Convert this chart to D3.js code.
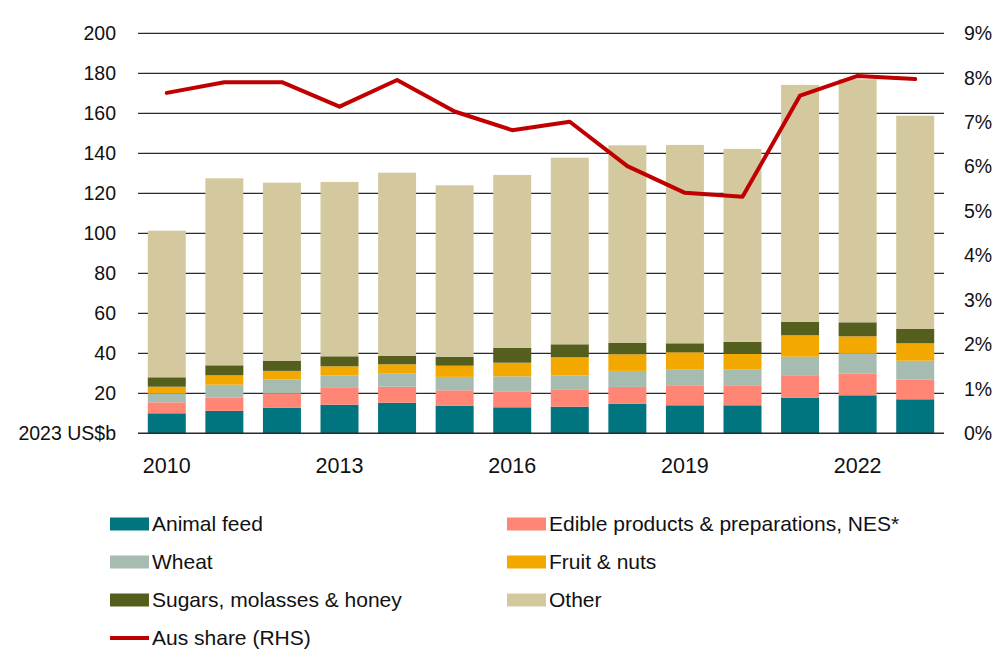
<!DOCTYPE html>
<html><head><meta charset="utf-8">
<script src="https://cdn.jsdelivr.net/npm/d3@7"></script>
<style>body{margin:0;background:#fff}svg{display:block}</style>
</head><body><svg id="c" width="1000" height="667"></svg>
<script>
const years = [2010,2011,2012,2013,2014,2015,2016,2017,2018,2019,2020,2021,2022,2023];
const animalFeed = [10,11.2,12.7,14.3,15.3,13.7,13,13.3,14.7,14,14,17.7,19,17];
const edible     = [5.5,6.6,7.3,8.4,8,7.8,8,8.4,8.5,9.7,10,11,10.8,9.8];
const wheat      = [4.5,6.5,7,6.3,6.5,6.7,7.5,7.3,8,8.1,7.8,9.6,9.9,9.5];
const fruitNuts  = [3.3,4.7,4.2,4.5,4.7,5.6,6.8,9,8.3,8.7,8,10.7,8.8,8.7];
const sugars     = [4.7,5,5.1,5,4.3,4.5,7.5,6.5,5.8,4.5,5.9,6.7,7,7.3];
const other      = [73.3,93.5,89,87.2,91.5,85.7,86.4,93.3,98.7,99.2,96.5,118.5,121.5,106.5];
const ausShare   = [7.66,7.90,7.90,7.35,7.95,7.24,6.82,7.01,6.01,5.41,5.32,7.60,8.04,7.97];
const leftTicks  = [0,20,40,60,80,100,120,140,160,180,200];
const rightTicks = [0,1,2,3,4,5,6,7,8,9];
const xTickYears = [2010,2013,2016,2019,2022];
const seriesNames = ["Animal feed","Edible products & preparations, NES*","Wheat","Fruit & nuts","Sugars, molasses & honey","Other"];
const seriesColors = ["#00747F","#FF8674","#A6BCB1","#F3A800","#545F1E","#D4C99E"];
const lineName = "Aus share (RHS)";

const svg = d3.select("#c");
const L = 138, R = 944, T = 33.3, B = 433.3;
const font = "'Liberation Sans', Arial, sans-serif";
const x = d3.scaleBand().domain(years).range([L,R]).paddingInner(0.34).paddingOuter(0.17);
const y = d3.scaleLinear().domain([0,200]).range([B,T]);
const y2 = d3.scaleLinear().domain([0,9]).range([B,T]);

// gridlines
svg.append("g").selectAll("line").data(leftTicks.filter(d=>d>0)).join("line")
  .attr("x1",L).attr("x2",R).attr("y1",d=>y(d)).attr("y2",d=>y(d))
  .attr("stroke","#2b2b2b").attr("stroke-width",1.3);

// stacked bars
const keys = seriesNames;
const seriesArr = [animalFeed,edible,wheat,fruitNuts,sugars,other];
const table = years.map((yr,i)=>{const o={year:yr}; keys.forEach((k,j)=>o[k]=seriesArr[j][i]); return o;});
const stack = d3.stack().keys(keys)(table);
svg.append("g").selectAll("g").data(stack).join("g")
  .attr("fill",(d,i)=>seriesColors[i])
  .selectAll("rect").data(d=>d).join("rect")
  .attr("x",d=>x(d.data.year)).attr("width",x.bandwidth())
  .attr("y",d=>y(d[1])).attr("height",d=>y(d[0])-y(d[1]));

// bottom axis line
svg.append("line").attr("x1",L).attr("x2",R).attr("y1",B).attr("y2",B)
  .attr("stroke","#2b2b2b").attr("stroke-width",1.5);

// left labels
const ly = svg.append("g").attr("font-family",font).attr("font-size",19.5).attr("fill","#111");
ly.selectAll("text").data(leftTicks).join("text")
  .attr("x",116).attr("y",d=>y(d)).attr("dy","0.35em").attr("text-anchor","end")
  .text(d=>d===0?"2023 US$b":d);

// right labels
svg.append("g").attr("font-family",font).attr("font-size",19.5).attr("fill","#111")
  .selectAll("text").data(rightTicks).join("text")
  .attr("x",964).attr("y",d=>y2(d)).attr("dy","0.35em").attr("text-anchor","start")
  .text(d=>d+"%");

// x labels
svg.append("g").attr("font-family",font).attr("font-size",21.5).attr("fill","#111")
  .selectAll("text").data(xTickYears).join("text")
  .attr("x",d=>x(d)+x.bandwidth()/2).attr("y",465).attr("dy","0.35em").attr("text-anchor","middle")
  .text(d=>d);

// line
const line = d3.line().x((d,i)=>x(years[i])+x.bandwidth()/2).y(d=>y2(d));
svg.append("path").datum(ausShare).attr("d",line).attr("fill","none")
  .attr("stroke","#C00000").attr("stroke-width",4).attr("stroke-linejoin","round").attr("stroke-linecap","round");

// legend
const lg = svg.append("g").attr("font-family",font).attr("font-size",21).attr("fill","#111");
const legendItems = seriesNames.map((n,i)=>({name:n,color:seriesColors[i],col:i%2,row:Math.floor(i/2),type:"rect"}));
legendItems.push({name:lineName,color:"#C00000",col:0,row:3,type:"line"});
const colX = [110,507], rowY = [524,562,600,638];
const li = lg.selectAll("g").data(legendItems).join("g")
  .attr("transform",d=>`translate(${colX[d.col]},${rowY[d.row]})`);
li.filter(d=>d.type==="rect").append("rect").attr("x",0).attr("y",-6.5).attr("width",39).attr("height",13).attr("fill",d=>d.color);
li.filter(d=>d.type==="line").append("line").attr("x1",0).attr("x2",39).attr("y1",0).attr("y2",0).attr("stroke",d=>d.color).attr("stroke-width",4);
li.append("text").attr("x",42).attr("y",0).attr("dy","0.35em").text(d=>d.name);
</script></body></html>
